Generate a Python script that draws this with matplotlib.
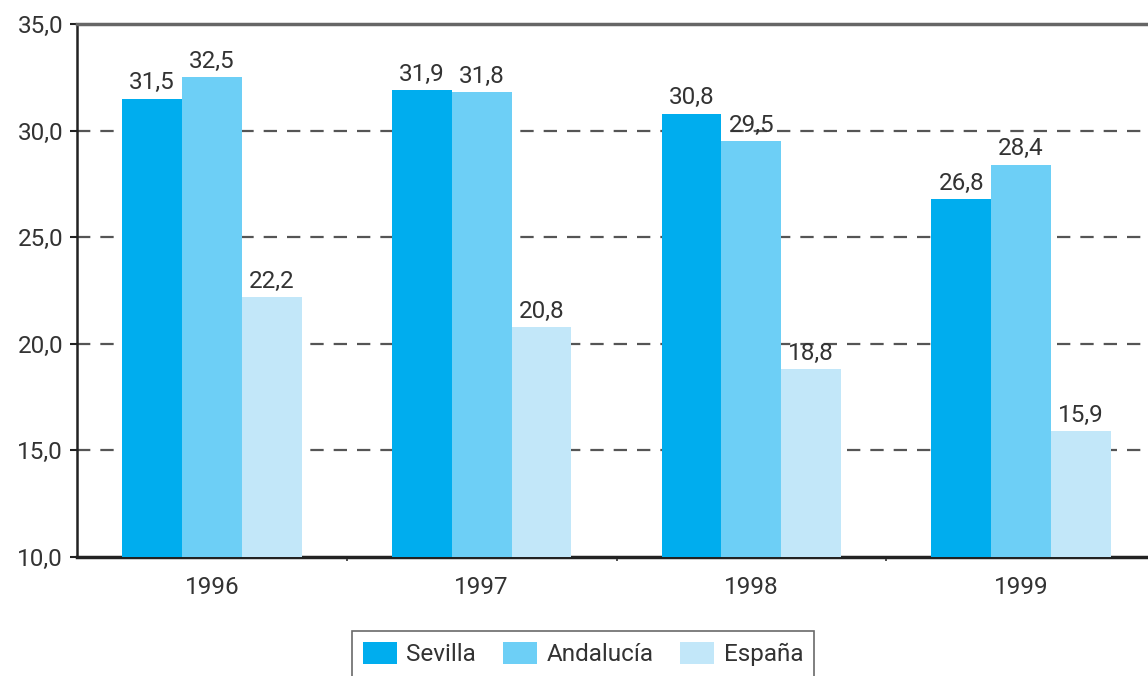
import numpy as np
import matplotlib.pyplot as plt

plt.rcParams['font.family'] = ['Roboto', 'DejaVu Sans']

# data
years = ['1996', '1997', '1998', '1999']
sevilla = [31.5, 31.9, 30.8, 26.8]
andalucia = [32.5, 31.8, 29.5, 28.4]
espana = [22.2, 20.8, 18.8, 15.9]
series_names = ['Sevilla', 'Andalucía', 'España']
colors = ['#00adee', '#6dcff6', '#c2e7f9']

fig = plt.figure(figsize=(11.48, 6.76), dpi=100)
ax = fig.add_axes([77/1148, 1 - 557/676, (1156 - 77)/1148, (557 - 24)/676])

x = np.arange(len(years))
w = 0.222
for i, (vals, name, c) in enumerate(zip([sevilla, andalucia, espana], series_names, colors)):
    bars = ax.bar(x + (i - 1) * w, vals, width=w, color=c, label=name, zorder=3)
    for b, v in zip(bars, vals):
        ax.text(b.get_x() + b.get_width() / 2, v + 0.2, f'{v:.1f}'.replace('.', ','),
                ha='center', va='bottom', fontsize=17.5, color='#333333', zorder=4)

ax.set_ylim(10, 35)
ax.set_xlim(-0.5, 3.5)
yt = np.arange(10, 36, 5)
ax.set_yticks(yt)
ax.set_yticklabels([f'{v:.1f}'.replace('.', ',') for v in yt], fontsize=17.5, color='#333333')

# dashed grid lines
for v in [15, 20, 25, 30]:
    ax.axhline(v, color='#555555', lw=1.6, dashes=(6, 4.5), zorder=1)

ax.set_xticks(x)
ax.set_xticklabels(years, fontsize=17.5, color='#333333')
ax.tick_params(axis='x', length=0, pad=14)
ax.set_xticks([0.5, 1.5, 2.5], minor=True)
ax.tick_params(axis='x', which='minor', length=3, width=1.2, color='#333333')
ax.tick_params(axis='y', length=5, width=1.5, color='#222222', pad=5)

ax.spines['left'].set_linewidth(1.8)
ax.spines['left'].set_color('#222222')
ax.spines['bottom'].set_linewidth(2.5)
ax.spines['bottom'].set_color('#222222')
ax.spines['top'].set_linewidth(2.5)
ax.spines['top'].set_color('#666666')
ax.spines['right'].set_visible(False)

leg = fig.legend(loc='upper center', bbox_to_anchor=(583/1148, 1 - 631/676), ncol=3,
                 fontsize=17.5, frameon=True, fancybox=False, edgecolor='#444444',
                 handlelength=1.4, handleheight=1.0, columnspacing=1.1, borderpad=0.45,
                 handletextpad=0.4, borderaxespad=0)
leg.get_frame().set_linewidth(1.2)
for t in leg.get_texts():
    t.set_color('#333333')

fig.savefig('out.png', dpi=100)
